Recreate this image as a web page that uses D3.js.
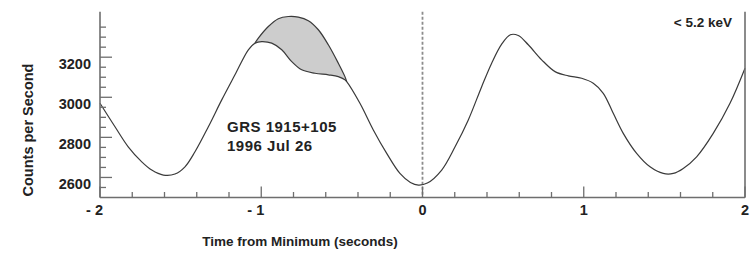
<!DOCTYPE html>
<html><head><meta charset="utf-8">
<script src="https://cdn.jsdelivr.net/npm/d3@7"></script>
<style>
html,body{margin:0;padding:0;background:#fff;}
svg{display:block;}
text{font-family:"Liberation Sans",Arial,sans-serif;font-weight:bold;fill:#222;}
</style></head>
<body>
<svg id="c" width="755" height="254"></svg>
<script>
// Main (lower) light curve
const timeMain = [-2.000,-1.907,-1.825,-1.741,-1.679,-1.607,-1.535,-1.473,-1.411,-1.328,-1.245,-1.163,-1.080,-1.039,-0.997,-0.935,-0.873,-0.811,-0.749,-0.667,-0.584,-0.522,-0.481,-0.470,-0.388,-0.305,-0.222,-0.140,-0.075,-0.025,0.030,0.119,0.202,0.284,0.367,0.429,0.491,0.545,0.594,0.656,0.739,0.822,0.904,0.987,1.059,1.121,1.183,1.245,1.328,1.411,1.493,1.555,1.617,1.700,1.803,1.907,2.000];
const countsMain = [2970,2853,2753,2678,2637,2612,2617,2653,2728,2853,2987,3112,3237,3270,3278,3270,3237,3178,3137,3120,3112,3103,3087,3078,2970,2837,2720,2620,2575,2562,2572,2637,2753,2887,3053,3170,3265,3312,3308,3262,3187,3128,3107,3095,3070,3020,2920,2820,2720,2653,2620,2620,2645,2703,2820,2970,3145];
// Upper excursion (shaded)
const timeUpper = [-1.039,-1.018,-0.956,-0.894,-0.832,-0.770,-0.708,-0.646,-0.584,-0.522,-0.481,-0.470];
const countsUpper = [3270,3295,3353,3392,3403,3400,3382,3337,3262,3170,3103,3078];
// Axis ticks
const xMajorTicks = [-2,-1,0,1,2];
const xTickLabels = ["- 2","- 1","0","1","2"];
const yMajorTicks = [2600,2800,3000,3200];
const title1 = "GRS 1915+105", title2 = "1996 Jul 26", bandLabel = "< 5.2 keV";

const svg = d3.select("#c");
const x = d3.scaleLinear().domain([-2,2]).range([100,745]);
const y = d3.scaleLinear().domain([2500,3427]).range([197.5,11.7]);
const axisCol = "#6e6e6e";

// minor ticks
const xMinor = d3.range(-2,2.0001,0.2).map(v=>+v.toFixed(1));
const yMinor = d3.range(2550,3351,50);

// shaded region
const mainPts = timeMain.map((t,i)=>[t,countsMain[i]]);
const upPts = timeUpper.map((t,i)=>[t,countsUpper[i]]);
const t0 = timeUpper[0], t1 = timeUpper[timeUpper.length-1];
const lowSeg = mainPts.filter(p=>p[0]>=t0-1e-9 && p[0]<=t1+1e-9).reverse();
const lineGen = d3.line().x(d=>x(d[0])).y(d=>y(d[1])).curve(d3.curveCatmullRom.alpha(0.5));
svg.append("path").attr("d", lineGen(upPts) + lineGen(lowSeg).replace(/^M/,"L") + "Z")
  .attr("fill","#cdcdcd").attr("stroke","none");

// dashed zero line
svg.append("line").attr("x1",x(0)).attr("x2",x(0)).attr("y1",11.7).attr("y2",197.5)
  .attr("stroke","#8c8c8c").attr("stroke-width",1.8).attr("stroke-dasharray","3,2");

// curves
svg.append("path").attr("d",lineGen(mainPts)).attr("fill","none").attr("stroke","#3a3a3a").attr("stroke-width",1.2);
svg.append("path").attr("d",lineGen(upPts)).attr("fill","none").attr("stroke","#3a3a3a").attr("stroke-width",1.2);

// axes lines
svg.append("line").attr("x1",100).attr("x2",100).attr("y1",11.7).attr("y2",197.5).attr("stroke",axisCol).attr("stroke-width",1.6);
svg.append("line").attr("x1",745).attr("x2",745).attr("y1",11.7).attr("y2",197.5).attr("stroke",axisCol).attr("stroke-width",1.6);
svg.append("line").attr("x1",100).attr("x2",745).attr("y1",197.5).attr("y2",197.5).attr("stroke",axisCol).attr("stroke-width",1.6);

// x ticks
svg.selectAll(".xt").data(xMinor).enter().append("line")
  .attr("x1",d=>x(d)).attr("x2",d=>x(d)).attr("y1",197.5)
  .attr("y2",d=>Math.abs(d-Math.round(d))<1e-6?186.5:192)
  .attr("stroke",axisCol).attr("stroke-width",1.3);
// y ticks
svg.selectAll(".yt").data(yMinor).enter().append("line")
  .attr("y1",d=>y(d)).attr("y2",d=>y(d)).attr("x1",100)
  .attr("x2",d=>d%200===0?112:106)
  .attr("stroke",axisCol).attr("stroke-width",1.3);

// tick labels
svg.selectAll(".xl").data(xMajorTicks).enter().append("text")
  .attr("x",(d,i)=>d<0?x(d)+3:x(d)).attr("y",215)
  .attr("text-anchor",d=>d<0?"end":"middle").attr("font-size",14.5).text((d,i)=>xTickLabels[i]);
svg.selectAll(".yl").data(yMajorTicks).enter().append("text")
  .attr("x",91).attr("y",d=>y(d)+12).attr("text-anchor","end").attr("font-size",14.5).text(d=>d);

// axis titles
svg.append("text").attr("x",300).attr("y",246).attr("text-anchor","middle").attr("font-size",13.5)
  .text("Time from Minimum (seconds)");
svg.append("text").attr("transform","translate(33,130) rotate(-90)").attr("text-anchor","middle").attr("font-size",14.5)
  .text("Counts per Second");

// annotations
svg.append("text").attr("x",227).attr("y",131.5).attr("font-size",15).attr("letter-spacing",0.5).text(title1);
svg.append("text").attr("x",227).attr("y",151).attr("font-size",15).attr("letter-spacing",0.5).text(title2);
svg.append("text").attr("x",732).attr("y",27).attr("text-anchor","end").attr("font-size",13.5).text(bandLabel);
</script>
</body></html>
